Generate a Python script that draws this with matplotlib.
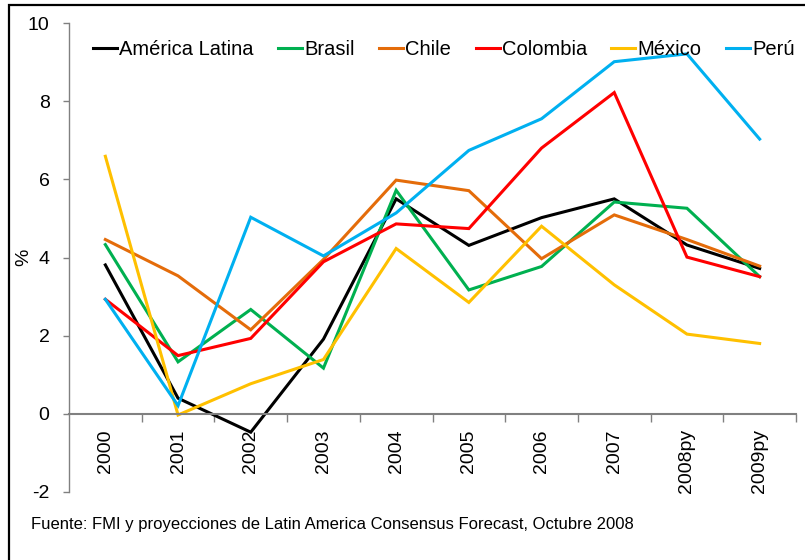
import matplotlib
matplotlib.use("Agg")
import matplotlib.pyplot as plt
from matplotlib.patches import Rectangle

plt.rcParams['font.family'] = ['Liberation Sans', 'DejaVu Sans']

categories = ["2000", "2001", "2002", "2003", "2004", "2005", "2006", "2007", "2008py", "2009py"]
america_latina = [3.81, 0.40, -0.47, 1.91, 5.50, 4.31, 5.02, 5.50, 4.32, 3.72]
brasil = [4.33, 1.33, 2.67, 1.17, 5.72, 3.17, 3.77, 5.42, 5.26, 3.51]
chile = [4.46, 3.53, 2.15, 3.95, 5.98, 5.71, 3.97, 5.09, 4.46, 3.78]
colombia = [2.93, 1.49, 1.93, 3.89, 4.86, 4.74, 6.80, 8.22, 4.01, 3.51]
mexico = [6.59, -0.03, 0.77, 1.39, 4.23, 2.85, 4.80, 3.30, 2.04, 1.80]
peru = [2.93, 0.21, 5.03, 4.04, 5.14, 6.74, 7.55, 9.01, 9.21, 7.03]

series = [
    ("América Latina", america_latina, "#000000"),
    ("Brasil", brasil, "#00B050"),
    ("Chile", chile, "#E46C0A"),
    ("Colombia", colombia, "#FF0000"),
    ("México", mexico, "#FFC000"),
    ("Perú", peru, "#00B0F0"),
]

fig = plt.figure(figsize=(8.05, 5.6), dpi=100)
ax = fig.add_axes([69/805, 1-492/560, (796-69)/805, (492-23)/560])

x = list(range(len(categories)))
for name, vals, col in series:
    ax.plot(x, vals, color=col, lw=2.2, label=name, solid_joinstyle='miter')

ax.set_xlim(-0.5, len(categories)-0.5)
ax.set_ylim(-2, 10)
ax.set_yticks([-2, 0, 2, 4, 6, 8, 10])
ax.set_yticklabels(["-2", "0", "2", "4", "6", "8", "10"], fontsize=14)
ax.tick_params(axis='y', direction='out', length=4, width=1, color='#808080', pad=10)

ax.spines['top'].set_visible(False)
ax.spines['right'].set_visible(False)
ax.spines['left'].set_color('#808080')
ax.spines['left'].set_linewidth(1)
ax.spines['bottom'].set_position(('data', 0))
ax.spines['bottom'].set_color('#808080')
ax.spines['bottom'].set_linewidth(1.5)

ax.set_xticks(x)
ax.set_xticklabels(categories, rotation=90, fontsize=14, va='top', ha='center')
ax.tick_params(axis='x', which='major', length=0, pad=11)
ax.set_xticks([i + 0.5 for i in x], minor=True)
ax.tick_params(axis='x', which='minor', direction='out', length=6, width=1, color='#808080')

ax.set_ylabel("%", fontsize=14, labelpad=2)
ax.yaxis.set_label_coords((32-69)/727, 0.5)

leg = ax.legend(loc='upper left', bbox_to_anchor=((93-69)/727, 1-(40-23)/469), ncol=6, frameon=False,
                fontsize=14.5, handlelength=1.2, handletextpad=0.1, columnspacing=1.21,
                borderaxespad=0, borderpad=0)
for h in leg.get_lines():
    h.set_linewidth(2.2)

fig.text(31/805, 1-524/560, "Fuente: FMI y proyecciones de Latin America Consensus Forecast, Octubre 2008",
         fontsize=12, va='center', ha='left', family=['Liberation Sans Narrow', 'Liberation Sans'])

fig.patches.append(Rectangle((9/805, -0.1), 1.2, 1-5/560+0.1, transform=fig.transFigure,
                             fill=False, edgecolor='black', linewidth=1.6, zorder=10))

fig.savefig("out.png", dpi=100)
